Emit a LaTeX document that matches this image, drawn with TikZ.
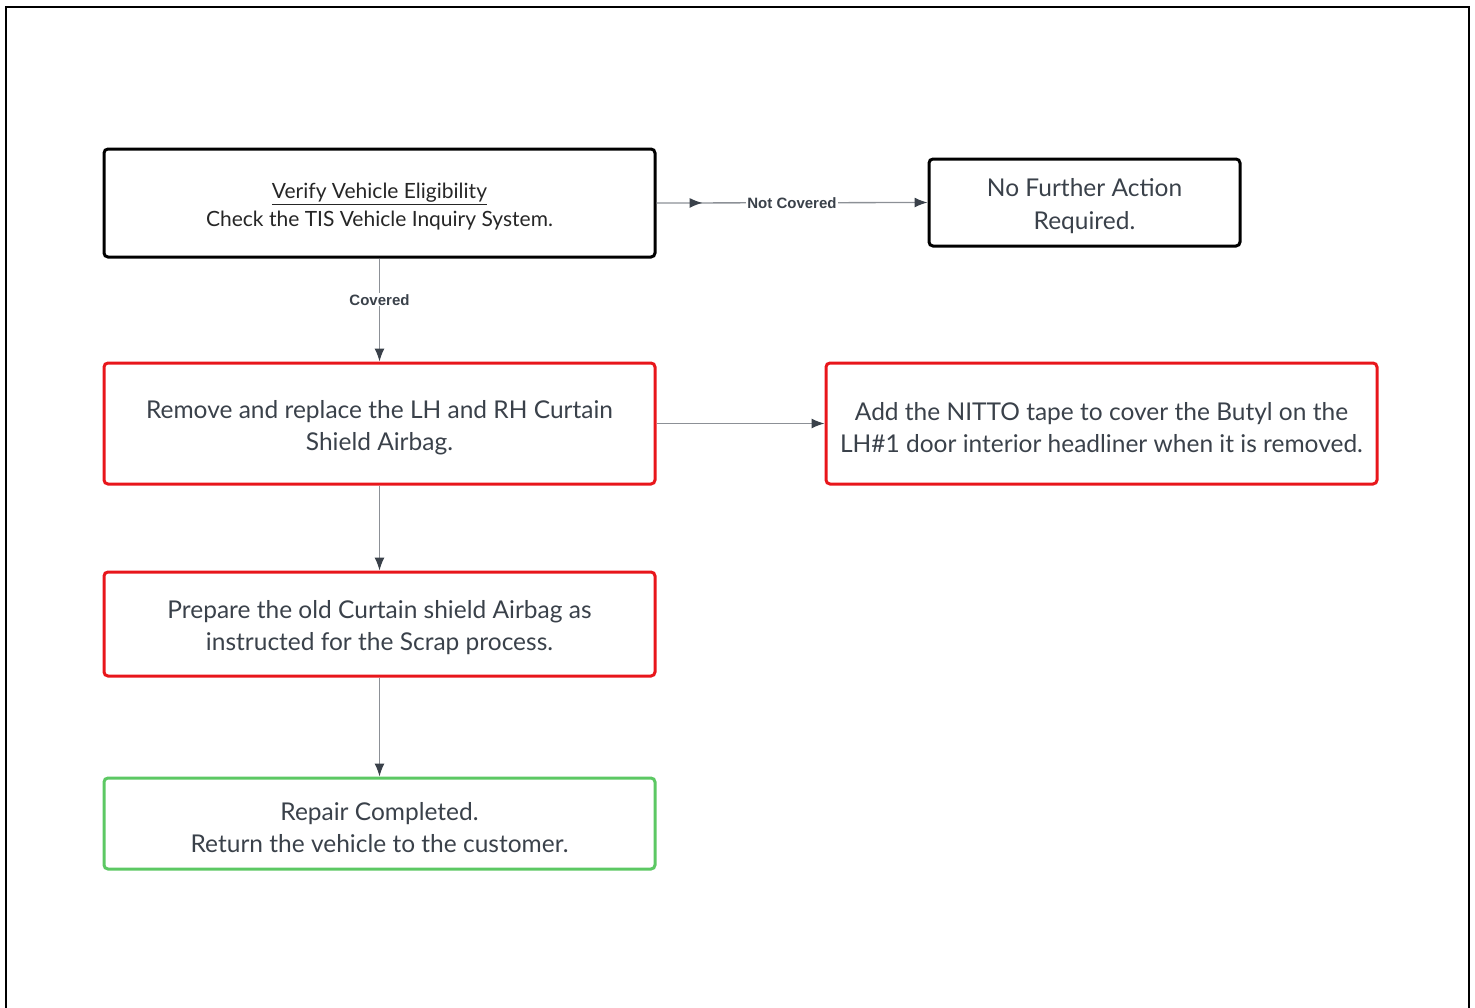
\documentclass[tikz,border=0pt]{standalone}
\usepackage{fontspec}
\setmainfont{Lato}
\newfontfamily\edgefont{Liberation Sans}
\usetikzlibrary{arrows.meta,decorations.markings}
\definecolor{txt}{HTML}{3A414A}
\definecolor{edge}{HTML}{8C9096}
\definecolor{boxred}{HTML}{E8161B}
\definecolor{boxgreen}{HTML}{5CC863}
\tikzset{
  box/.style={draw, line width=3pt, rounded corners=4pt, inner sep=0pt},
  blackbox/.style={box, draw=black},
  redbox/.style={box, draw=boxred},
  greenbox/.style={box, draw=boxgreen},
  boxtext/.style={align=center, inner sep=0pt, text=txt, yshift=-4pt,
    font=\fontsize{24.5}{32}\selectfont},
  conn/.style={draw=edge, line width=1.3pt, -{Latex[length=13pt,width=10pt,color=txt]}},
  elabel/.style={fill=white, inner sep=1pt, text=txt, font=\edgefont\bfseries\fontsize{15}{16}\selectfont},
  midarrow/.style={postaction={decorate}, decoration={markings,
     mark=at position #1 with {\arrow{Latex[length=13pt,width=10pt,color=txt]}}}}
}
\begin{document}
\begin{tikzpicture}[x=1pt,y=-1pt]
\useasboundingbox (0,0) rectangle (1475,1007);
\draw[line width=2.5pt] (6,1010) -- (6,7) -- (1469,7) -- (1469,1010);

\node[blackbox, minimum width=551, minimum height=108] (v) at (379.5,203) {};
\node[boxtext, font=\fontsize{21}{28}\selectfont, text=black!85] (vt) at (v)
  {\underline{Verify Vehicle Eligibility}\\Check the TIS Vehicle Inquiry System.};
\node[blackbox, minimum width=311, minimum height=87] (nf) at (1084.5,202.5) {};
\node[boxtext, font=\fontsize{24.5}{33}\selectfont] (nft) at (nf) {No Further Action\\Required.};
\node[redbox, minimum width=551, minimum height=121] (rr) at (379.5,423.5) {};
\node[boxtext] (rrt) at (rr) {Remove and replace the LH and RH Curtain\\Shield Airbag.};
\node[redbox, minimum width=551, minimum height=121] (add) at (1101.5,423.5) {};
\node[boxtext] (addt) at (add)
  {Add the NITTO tape to cover the Butyl on the\\LH\#1 door interior headliner when it is removed.};
\node[redbox, minimum width=551, minimum height=104] (prep) at (379.5,624) {};
\node[boxtext] (prept) at (prep) {Prepare the old Curtain shield Airbag as\\instructed for the Scrap process.};
\node[greenbox, minimum width=551, minimum height=91] (rep) at (379.5,823.5) {};
\node[boxtext] (rept) at (rep) {Repair Completed.\\Return the vehicle to the customer.};

\draw[conn, midarrow=0.17] (v.east) -- node[elabel, pos=0.5] {Not Covered} (nf.west);
\draw[conn] (v.south) -- node[elabel, pos=0.4] {Covered} (rr.north);
\draw[conn] (rr.east) -- (add.west);
\draw[conn] (rr.south) -- (prep.north);
\draw[conn] (prep.south) -- (rep.north);
\end{tikzpicture}
\end{document}
